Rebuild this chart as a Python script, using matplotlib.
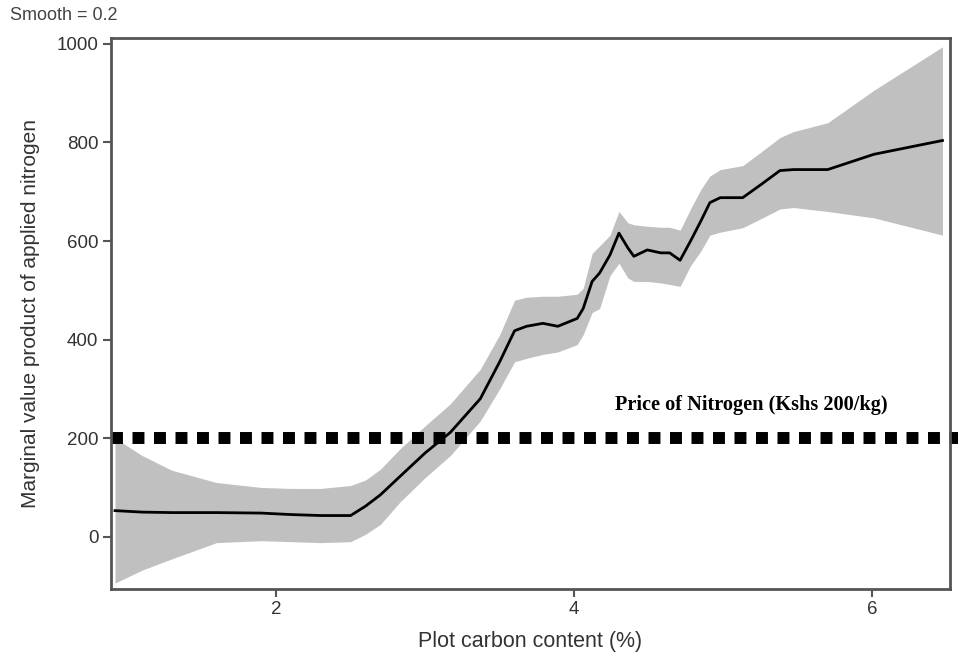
import numpy as np
import matplotlib
matplotlib.use("Agg")
import matplotlib.pyplot as plt

plt.rcParams['font.family'] = ['Liberation Sans', 'DejaVu Sans']

# carbon content (%) grid
carbon = [0.92, 1.1, 1.3, 1.6, 1.9, 2.1, 2.3, 2.5, 2.6, 2.7, 2.83, 3.0, 3.17, 3.37,
          3.5, 3.6, 3.68, 3.79, 3.89, 4.02, 4.06, 4.12, 4.17, 4.24, 4.30, 4.36,
          4.40, 4.49, 4.58, 4.64, 4.71, 4.78, 4.85, 4.91, 4.98, 5.13, 5.25, 5.38,
          5.47, 5.70, 6.01, 6.47]
mvp = [53, 50, 49, 49, 48, 45, 43, 43, 62, 85, 122, 170, 212, 280,
       355, 418, 427, 433, 427, 443, 463, 518, 535, 572, 616, 586,
       569, 582, 576, 576, 561, 600, 641, 678, 688, 688, 714, 743,
       745, 745, 776, 804]
upper = [200, 165, 135, 110, 100, 98, 98, 104, 115, 137, 178, 225, 270, 340,
         410, 480, 486, 488, 488, 492, 504, 575, 590, 612, 660, 637,
         633, 630, 628, 628, 622, 665, 705, 732, 745, 753, 780, 810,
         822, 840, 906, 994]
lower = [-94, -68, -45, -12, -8, -10, -12, -10, 5, 25, 70, 120, 165, 235,
         300, 355, 362, 370, 375, 390, 410, 455, 463, 530, 555, 525,
         518, 518, 515, 512, 508, 550, 580, 612, 618, 627, 645, 665,
         668, 660, 647, 612]
price = 200

fig = plt.figure(figsize=(9.61, 6.55), dpi=100)
ax = fig.add_axes([0.1155, 0.1008, 0.873, 0.8412])

ax.fill_between(carbon, lower, upper, color="#c0c0c0", linewidth=0)
ax.plot(carbon, mvp, color="black", lw=2)
ax.axhline(price, xmin=0, xmax=1.01, color="black", lw=8.6,
           linestyle=(0, (1, 0.8)), dash_capstyle="butt", clip_on=False)
ax.text(5.19, 268, "Price of Nitrogen (Kshs 200/kg)", ha="center", va="center",
        family="Liberation Serif", weight="bold", fontsize=14.6)

ax.set_xlim(0.893, 6.52)
ax.set_ylim(-106, 1012)
ax.set_xticks([2, 4, 6])
ax.set_yticks([0, 200, 400, 600, 800, 1000])

for s in ax.spines.values():
    s.set_color("#555555")
    s.set_linewidth(2)
ax.tick_params(direction="out", length=6, width=1.5, color="#555555",
               labelcolor="#333333", labelsize=13.5, pad=3)
ax.set_xlabel("Plot carbon content (%)", fontsize=15.5, color="#333333", labelpad=9)
ax.set_ylabel("Marginal value product of applied nitrogen", fontsize=15,
              color="#333333", labelpad=12)

fig.text(0.01, 0.977, "Smooth = 0.2", fontsize=13, color="#444444", va="center")

fig.savefig("out.png", dpi=100)
